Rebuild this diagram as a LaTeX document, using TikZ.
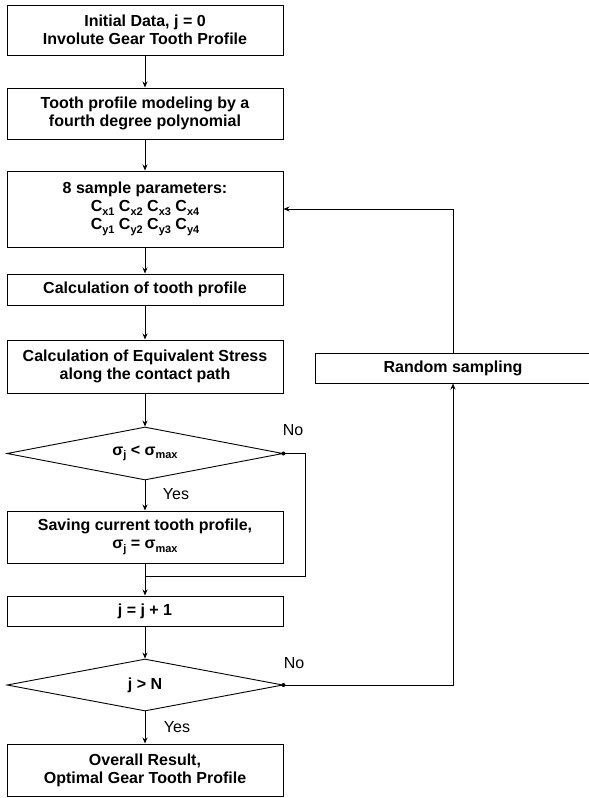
\documentclass[tikz,border=0pt]{standalone}
\usepackage{fontspec}
\setmainfont{Liberation Sans}
\usetikzlibrary{arrows.meta,shapes.geometric}
\newcommand\lowsub[1]{\raisebox{-3.5pt}{\fontsize{11}{11}\selectfont #1}}
\begin{document}
\begin{tikzpicture}[x=1pt,y=-1pt,
  every node/.style={font=\fontsize{16}{18}\selectfont},
  box/.style={draw, line width=1pt, minimum width=276pt, align=center, inner sep=2pt, font=\fontsize{16}{18}\selectfont\bfseries},
  dec/.style={draw, diamond, line width=0.9pt, shape aspect=5.2, minimum width=276pt, minimum height=53pt, inner sep=0pt, font=\fontsize{16}{18}\selectfont\bfseries},
  arr/.style={line width=0.9pt, -{Stealth[length=6pt,width=5pt]}},
  ln/.style={line width=0.9pt},
  lab/.style={font=\fontsize{16}{18}\selectfont}
]
\useasboundingbox (0,0) rectangle (589,798);
\fill[white] (0,0) rectangle (589,798);

\node[box, minimum height=50pt] (b1) at (145,30) {Initial Data, j = 0\\Involute Gear Tooth Profile};
\node[box, minimum height=51pt] (b2) at (145,113.5) {Tooth profile modeling by a\\fourth degree polynomial};
\node[box, minimum height=76pt] (b3) at (145,209) {8 sample parameters:\\C\lowsub{x1} C\lowsub{x2} C\lowsub{x3} C\lowsub{x4}\\C\lowsub{y1} C\lowsub{y2} C\lowsub{y3} C\lowsub{y4}};
\node[box, minimum height=31pt] (b4) at (145,289.5) {Calculation of tooth profile};
\node[box, minimum height=53pt] (b5) at (145,366.5) {Calculation of Equivalent Stress\\along the contact path};
\node[dec] (d1) at (145,453.5) {σ\lowsub{j} < σ\lowsub{max}};
\node[box, minimum height=52pt] (sv) at (145,537) {Saving current tooth profile,\\σ\lowsub{j} = σ\lowsub{max}};
\node[box, minimum height=30pt] (jb) at (145,611) {j = j + 1};
\node[dec, minimum height=52pt] (d2) at (145,685) {j > N};
\node[box, minimum height=52pt] (res) at (145,770) {Overall Result,\\Optimal Gear Tooth Profile};
\node[box, minimum height=30pt] (rs) at (453,368) {Random sampling};

\coordinate (m) at (145,576);
\coordinate (c1) at (305,576);

\draw[arr] (b1) -- (b2);
\draw[arr] (b2) -- (b3);
\draw[arr] (b3) -- (b4);
\draw[arr] (b4) -- (b5);
\draw[arr] (b5) -- (d1);
\draw[arr] (d1) -- (sv);
\draw[arr] (sv) -- (jb);
\draw[ln] (d1.east) -| (c1) -- (m);
\fill (d1.east) circle (2pt);
\draw[arr] (jb) -- (d2);
\draw[arr] (d2) -- (res);
\draw[arr] (d2.east) -| (rs.south);
\fill (d2.east) circle (2pt);
\draw[arr] (rs.north) |- (b3.east);

\node[lab] (y1) at (176,494) {Yes};
\node[lab] (y2) at (177,727) {Yes};
\node[lab] (n1) at (293,430) {No};
\node[lab] (n2) at (294,663) {No};
\end{tikzpicture}
\end{document}
